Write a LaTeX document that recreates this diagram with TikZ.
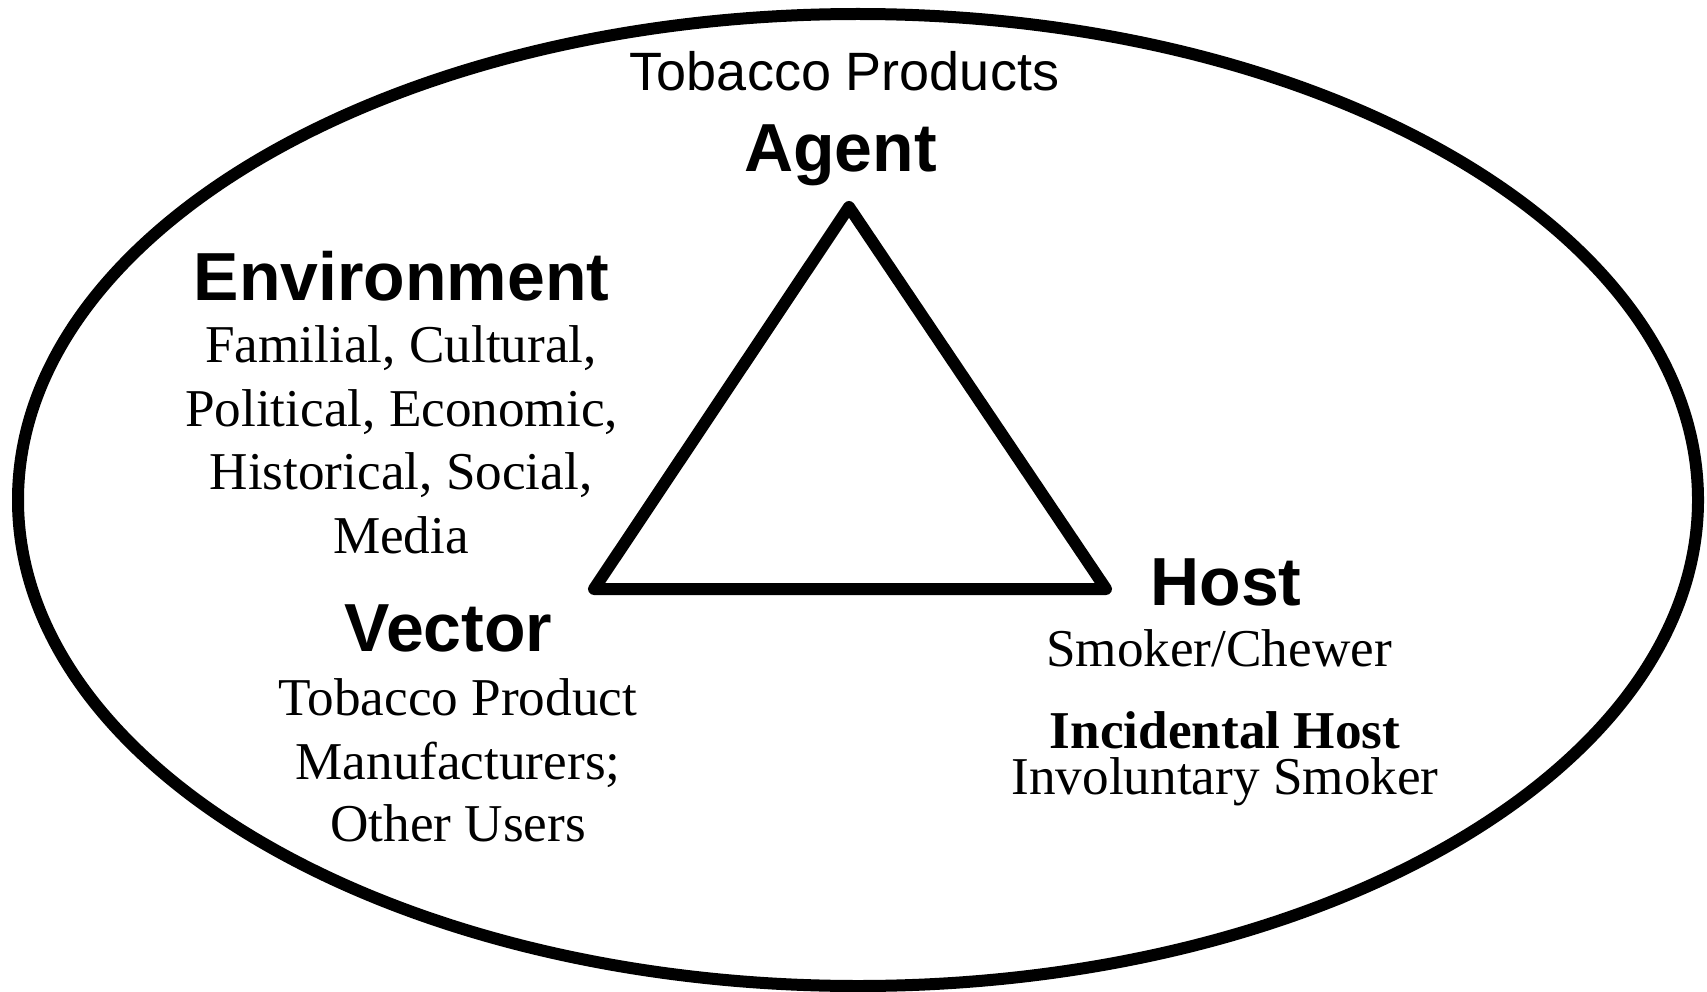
\documentclass[tikz,border=0pt]{standalone}
\usepackage{fontspec}
\setmainfont{Liberation Serif}
\setsansfont{Liberation Sans}
\begin{document}
\begin{tikzpicture}[x=1pt,y=-1pt,
  every node/.style={inner sep=0pt,outer sep=0pt,anchor=base},
  heading/.style={font=\sffamily\bfseries\fontsize{68}{68}\selectfont},
  caption/.style={font=\sffamily\fontsize{54}{54}\selectfont},
  body/.style={font=\rmfamily\fontsize{53.2}{53.2}\selectfont},
  bodybold/.style={font=\rmfamily\bfseries\fontsize{53.2}{53.2}\selectfont},
  outline/.style={line width=12pt,line join=round,draw=black}]
\useasboundingbox (0,0) rectangle (1707,992);
\fill[white] (0,0) rectangle (1707,992);

% outer ellipse
\draw[outline] (858,500) ellipse [x radius=840, y radius=486];

% epidemiological triangle
\coordinate (apex) at (849,207);
\coordinate (left) at (594,589);
\coordinate (right) at (1106,589);
\draw[outline] (apex) -- (left) -- (right) -- cycle;

% title and agent
\node[caption] (tp) at (844.5,91) {Tobacco Products};
\node[heading] (agent) at (840.5,172) {Agent};

% environment
\node[heading] (env) at (401.5,300.7) {Environment};
\node[body] (env1) at (401,362.7) {Familial, Cultural,};
\node[body] (env2) at (401.5,426.5) {Political, Economic,};
\node[body] (env3) at (401,489.5) {Historical, Social,};
\node[body] (env4) at (401,553) {Media};

% vector
\node[heading] (vec) at (448.5,651.7) {Vector};
\node[body] (vec1) at (458,715) {Tobacco Product};
\node[body] (vec2) at (458,779.3) {Manufacturers;};
\node[body] (vec3) at (458,841.7) {Other Users};

% host
\node[heading] (host) at (1226,605) {Host};
\node[body] (host1) at (1219,666.5) {Smoker/Chewer};
\node[bodybold] (inc) at (1225,748.3) {Incidental Host};
\node[body] (inc1) at (1225,794) {Involuntary Smoker};
\end{tikzpicture}
\end{document}
